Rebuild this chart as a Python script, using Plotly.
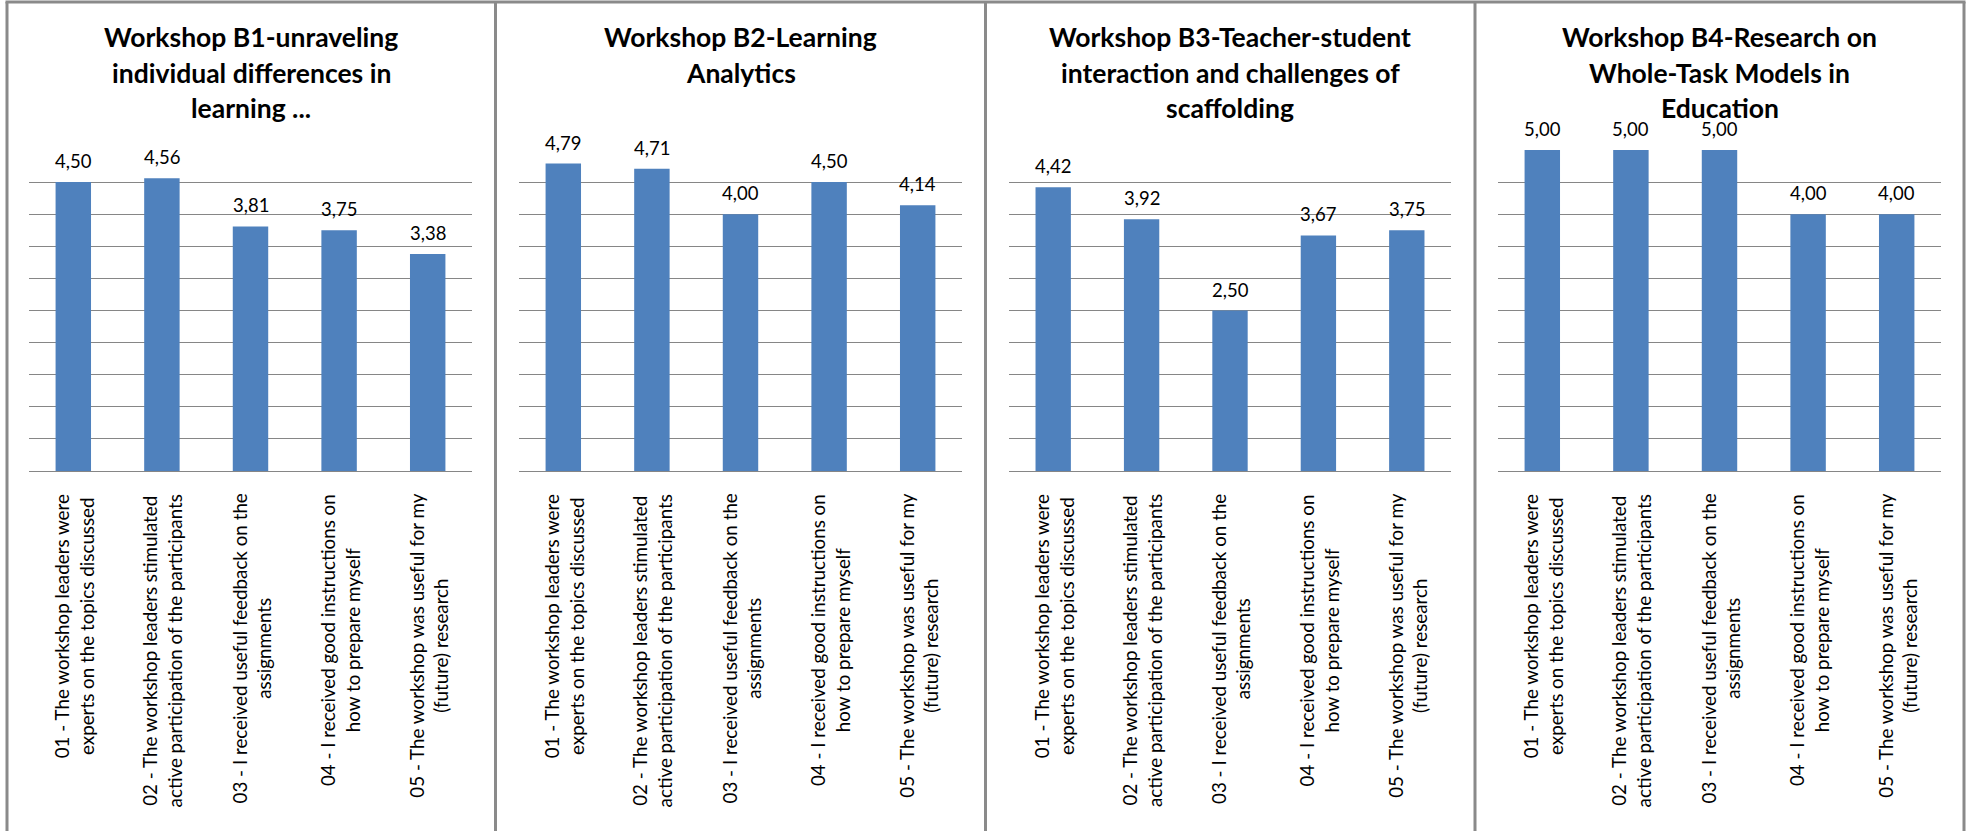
import plotly.graph_objects as go

W, H = 1973, 831

categories = [
    "01 - The workshop leaders were<br>experts on the topics discussed",
    "02 - The workshop leaders stimulated<br>active participation of the participants",
    "03 - I received useful feedback on the<br>assignments",
    "04 - I received good instructions on<br>how to prepare myself",
    "05 - The workshop was useful for my<br>(future) research",
]

titles = [
    ["Workshop B1-unraveling", "individual differences in", "learning ..."],
    ["Workshop B2-Learning", "Analytics"],
    ["Workshop B3-Teacher-student", "interaction and challenges of", "scaffolding"],
    ["Workshop B4-Research on", "Whole-Task Models in", "Education"],
]

b1_values = [4.50, 4.56, 3.81, 3.75, 3.38]
b2_values = [4.79, 4.71, 4.00, 4.50, 4.14]
b3_values = [4.42, 3.92, 2.50, 3.67, 3.75]
b4_values = [5.00, 5.00, 5.00, 4.00, 4.00]
series = [b1_values, b2_values, b3_values, b4_values]

FONT = "Lato, Carlito, Calibri, sans-serif"
BAR = "#4F81BD"
GRID = "#868686"
BORDER = "#8A8A8A"


def px_x(x):
    return x / W


def px_y(y):
    return 1 - y / H


panel_edges = [7, 495.5, 985.5, 1475, 1964]
plot_x = [(29, 472), (519, 962), (1009, 1451), (1498, 1941)]
plot_top, plot_bottom = 150, 471

fig = go.Figure()
annotations = []
shapes = []

for i, vals in enumerate(series):
    n = i + 1
    xa = "x" if n == 1 else f"x{n}"
    ya = "y" if n == 1 else f"y{n}"
    xs = list(range(len(categories)))
    fig.add_trace(go.Bar(
        x=xs, y=vals, xaxis=xa, yaxis=ya,
        marker=dict(color=BAR, line=dict(width=0)),
        width=0.4, showlegend=False, hoverinfo="skip",
    ))
    xl, xr = plot_x[i]
    fig.update_layout(**{
        f"xaxis{'' if n == 1 else n}": dict(
            domain=[px_x(xl), px_x(xr)], range=[-0.5, 4.5],
            showticklabels=False, showgrid=False, zeroline=False,
            showline=False, anchor=ya, fixedrange=True,
        ),
        f"yaxis{'' if n == 1 else n}": dict(
            domain=[px_y(plot_bottom), px_y(plot_top - 0.3)], range=[0, 5.005],
            dtick=0.5, tick0=0, showticklabels=False, showgrid=True,
            gridcolor=GRID, gridwidth=1, zeroline=True, zerolinecolor=GRID,
            zerolinewidth=1, showline=False, anchor=xa, fixedrange=True,
        ),
    })
    # data labels
    for x, v in zip(xs, vals):
        annotations.append(dict(
            x=x, y=v, xref=xa, yref=ya, text=f"{v:.2f}".replace(".", ","),
            showarrow=False, yanchor="middle", xanchor="center", yshift=21,
            font=dict(family=FONT, size=18.5, color="#000000"),
        ))
    # category labels
    for x, c in zip(xs, categories):
        annotations.append(dict(
            x=x, y=px_y(492), xref=xa, yref="paper", text=c,
            showarrow=False, textangle=-90, yanchor="top", xanchor="center",
            align="center",
            font=dict(family=FONT, size=18.8, color="#000000"),
        ))
    # title lines
    cx = px_x((panel_edges[i] + panel_edges[i + 1]) / 2)
    for k, line in enumerate(titles[i]):
        annotations.append(dict(
            x=cx, y=px_y(37 + 35.5 * k), xref="paper", yref="paper",
            text=f"<b>{line}</b>", showarrow=False, yanchor="middle",
            xanchor="center",
            font=dict(family=FONT, size=26.5, color="#000000"),
        ))

# borders
shapes.append(dict(type="line", xref="paper", yref="paper",
                   x0=px_x(5.5), x1=px_x(1965.5), y0=px_y(2), y1=px_y(2),
                   line=dict(color=BORDER, width=3)))
for e in panel_edges:
    shapes.append(dict(type="line", xref="paper", yref="paper",
                       x0=px_x(e), x1=px_x(e), y0=px_y(2), y1=px_y(H + 5),
                       line=dict(color=BORDER, width=3)))

fig.update_layout(
    width=W, height=H, margin=dict(l=0, r=0, t=0, b=0),
    paper_bgcolor="white", plot_bgcolor="white",
    annotations=annotations, shapes=shapes, bargap=0.6,
    font=dict(family=FONT),
)

fig.write_html(
    "out.html",
    config={"displayModeBar": False},
    post_script="document.body.style.margin='0px';document.body.style.overflow='hidden';",
)
